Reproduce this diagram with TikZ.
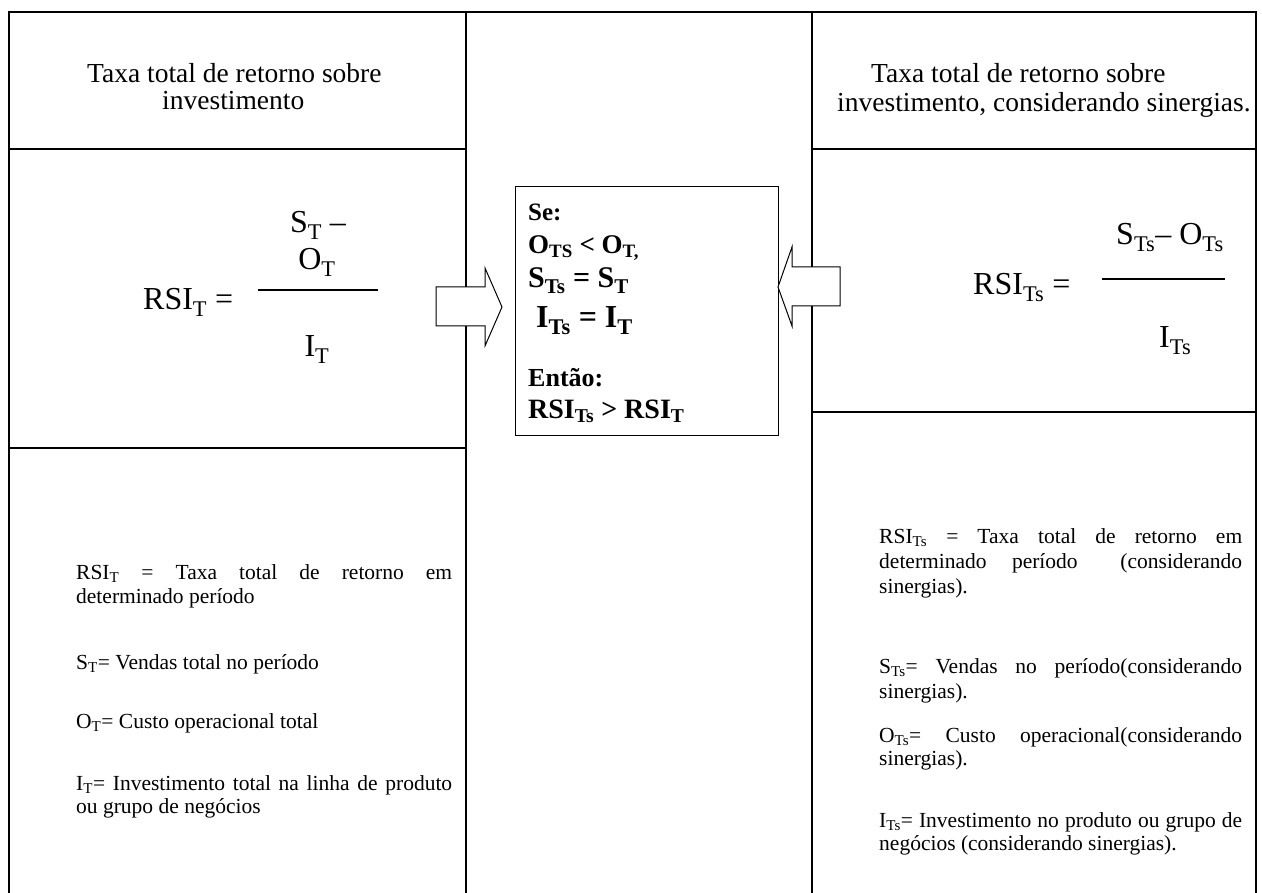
\documentclass[tikz,border=0pt]{standalone}
\usepackage{fontspec}
\setmainfont{Liberation Serif}
\newcommand\js{\hskip 0.25em plus 1fil\relax}
\newcommand\sbs[1]{\textsubscript{#1}}
\tikzset{
  grid/.style={line width=2pt, line cap=rect},
  ln/.style={anchor=base west, inner sep=0pt},
  lnc/.style={anchor=base, inner sep=0pt},
  head/.style={font=\fontsize{27.5}{30}\selectfont},
  body/.style={font=\fontsize{21.5}{24}\selectfont},
  formula/.style={font=\fontsize{32}{36}\selectfont},
  blockarrow/.style={draw, line width=1pt, fill=white, line join=miter},
}
\begin{document}
\begin{tikzpicture}[x=1pt,y=-1pt]
\useasboundingbox (0,0) rectangle (1262,893);
% table grid
\draw[grid] (9,12) -- (1256,12);
\draw[line width=2pt] (9,12) -- (9,893);
\draw[line width=2pt] (466,12) -- (466,893);
\draw[line width=2pt] (812,12) -- (812,893);
\draw[line width=2pt] (1256,12) -- (1256,893);
\draw[line width=2pt] (9,149) -- (466,149);
\draw[line width=2pt] (9,448) -- (466,448);
\draw[line width=2pt] (812,149) -- (1256,149);
\draw[line width=2pt] (812,412) -- (1256,412);

% headers
\node[ln,head] (hl1) at (87,83) {Taxa total de retorno sobre};
\node[ln,head] (hl2) at (162,110) {investimento};
\node[ln,head] (hr1) at (871,83) {Taxa total de retorno sobre};
\node[ln,head] (hr2) at (837,112) {investimento, considerando sinergias.};

% left formula
\node[ln,formula] (fl) at (143,310) {RSI\sbs{T} =};
\draw[line width=2pt] (258,290) -- (378,290);
\node[lnc,formula] (fln1) at (318,233) {S\sbs{T} –};
\node[lnc,formula] (fln2) at (317,270) {O\sbs{T}};
\node[lnc,formula] (fld) at (317,357) {I\sbs{T}};

% right formula
\node[ln,formula] (fr) at (973,295) {RSI\sbs{Ts} =};
\draw[line width=2pt] (1102,279) -- (1225,279);
\node[ln,formula] (frn) at (1116,245) {S\sbs{Ts}– O\sbs{Ts}};
\node[ln,formula] (frd) at (1159,348) {I\sbs{Ts}};

% middle box
\draw[line width=1pt] (515,187) rectangle (778,436);
\begin{scope}[every node/.style={ln}]
\node[font=\fontsize{25}{28}\selectfont\bfseries] (m1) at (528,221) {Se:};
\node[font=\fontsize{27}{30}\selectfont\bfseries] (m2) at (528,254) {O\sbs{TS} < O\sbs{T,}};
\node[font=\fontsize{30}{33}\selectfont\bfseries] (m3) at (528,288) {S\sbs{Ts} = S\sbs{T}};
\node[font=\fontsize{32}{36}\selectfont\bfseries] (m4) at (536,328) {I\sbs{Ts} = I\sbs{T}};
\node[font=\fontsize{26}{29}\selectfont\bfseries] (m5) at (528,387) {Então:};
\node[font=\fontsize{28}{31}\selectfont\bfseries] (m6) at (528,418) {RSI\sbs{Ts} > RSI\sbs{T}};
\end{scope}

% block arrows
\draw[blockarrow] (436,287) -- (485,287) -- (485,268) -- (502,307) -- (485,346) -- (485,326) -- (436,326) -- cycle;
\draw[blockarrow] (840,267) -- (792,267) -- (792,247) -- (778,287) -- (792,326) -- (792,306) -- (840,306) -- cycle;

% left body
\begin{scope}[every node/.style={ln,body}]
\node (l1) at (76,579) {\hbox to 376pt{RSI\sbs{T}\js=\js Taxa\js total\js de\js retorno\js em}};
\node (l2) at (76,603) {determinado período};
\node (l3) at (76,669) {S\sbs{T}= Vendas total no período};
\node (l4) at (76,728) {O\sbs{T}= Custo operacional total};
\node (l5) at (76,790) {\hbox to 376pt{I\sbs{T}=\js Investimento\js total\js na\js linha\js de\js produto}};
\node (l6) at (76,813) {ou grupo de negócios};
\end{scope}

% right body
\begin{scope}[every node/.style={ln,body}]
\node (r1) at (879,543) {\hbox to 363pt{RSI\sbs{Ts}\js=\js Taxa\js total\js de\js retorno\js em}};
\node (r2) at (879,568) {\hbox to 363pt{determinado\js período\hskip 0.5em plus 1.6fil\relax(considerando}};
\node (r3) at (879,593) {sinergias).};
\node (r4) at (879,673) {\hbox to 363pt{S\sbs{Ts}=\js Vendas\js no\js período(considerando}};
\node (r5) at (879,698) {sinergias).};
\node (r6) at (879,742) {\hbox to 363pt{O\sbs{Ts}=\js Custo\js operacional(considerando}};
\node (r7) at (879,765) {sinergias).};
\node (r8) at (879,827) {\hbox to 363pt{I\sbs{Ts}=\js Investimento\js no\js produto\js ou\js grupo\js de}};
\node (r9) at (879,850) {negócios (considerando sinergias).};
\end{scope}
\end{tikzpicture}
\end{document}
